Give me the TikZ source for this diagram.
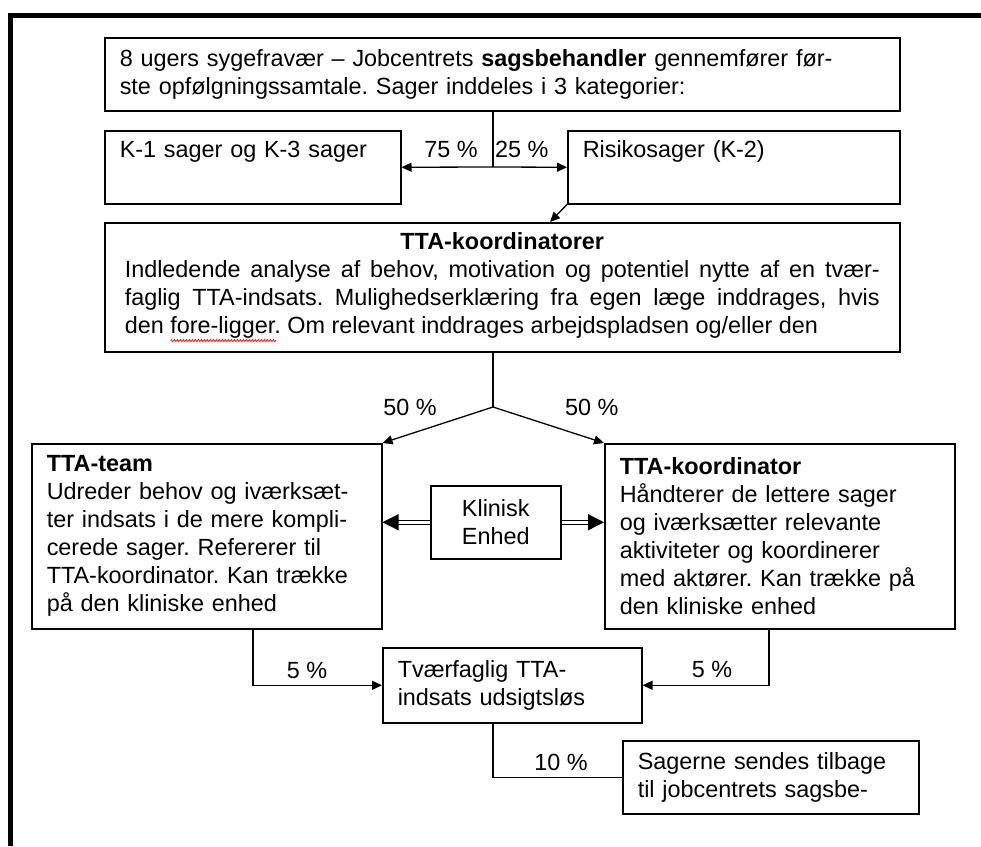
\documentclass[tikz,border=0pt]{standalone}
\usepackage{fontspec}
\setmainfont{Liberation Sans}
\usetikzlibrary{arrows.meta,positioning,decorations.pathmorphing}
\newlength{\wavelen}
\newcommand{\redwave}[1]{\settowidth{\wavelen}{#1}\rlap{\tikz[baseline=0pt]\draw[red, line width=0.7pt, decorate, decoration={zigzag, segment length=3pt, amplitude=1pt}] (0pt,-7pt) -- (\wavelen,-7pt);}#1}
\newcommand{\loosefit}{\rightskip=0pt plus 1fil minus 40pt\relax}

\begin{document}
\begin{tikzpicture}[
		x=1pt, y=-1pt,
		every node/.style={font=\fontsize{23.4}{28}\selectfont\frenchspacing},
		box/.style={draw, line width=1.5pt, anchor=north west, align=left, inner xsep=15pt, inner ysep=3pt},
		toptext/.style={inner ysep=0pt, text height=27pt, text depth=46pt},
		lbl/.style={inner sep=2pt},
		arr/.style={line width=1.3pt, -{Triangle[length=10pt,width=9pt]}},
		dblarr/.style={double, double distance=2.5pt, line width=1.2pt, -{Triangle[length=16pt,width=16pt]}}
		]
		\useasboundingbox (0,0) rectangle (981,846);
		\draw[line width=5pt] (10.5,846) -- (10.5,15.5) -- (981,15.5);
		
		\node[box, minimum width=795pt, minimum height=73pt, text width=765pt] (sick) at (104,37) {\loosefit 8 ugers sygefravær – Jobcentrets \textbf{sagsbehandler} gennemfører før-\\ste opfølgningssamtale. Sager inddeles i 3 kategorier:};
		\node[box, toptext, minimum width=296pt, minimum height=73pt, text width=266pt] (kone) at (104,130) {K-1 sager og K-3 sager};
		\node[box, toptext, minimum width=332pt, minimum height=73pt, text width=302pt] (risk) at (567,130) {Risikosager (K-2)};
		\node[box, align=justify, inner xsep=18pt, minimum width=795pt, minimum height=129pt, text width=755pt] (koord) at (104,222) {\makebox[\linewidth]{\textbf{TTA-koordinatorer}}\\Indledende analyse af behov, motivation og potentiel nytte af en tvær-\linebreak faglig TTA-indsats. Mulighedserklæring fra egen læge inddrages, hvis\linebreak den \redwave{fore-ligger}. Om relevant inddrages arbejdspladsen og/eller den};
		\node[box, minimum width=350pt, minimum height=185pt, text width=320pt] (team) at (31,443) {\loosefit\textbf{TTA-team}\\Udreder behov og iværksæt-\\ter indsats i de mere kompli-\\cerede sager. Refererer til\\TTA-koordinator. Kan trække\\på den kliniske enhed};
		\node[box, align=center, minimum width=130pt, minimum height=73pt, text width=100pt] (klinisk) at (430,485) {Klinisk\\Enhed};
		\node[box, minimum width=350pt, minimum height=185pt, text width=320pt] (coord) at (604,443) {\loosefit\textbf{TTA-koordinator}\\Håndterer de lettere sager\\og iværksætter relevante\\aktiviteter og koordinerer\\med aktører. Kan trække på\\den kliniske enhed};
		\node[box, minimum width=259pt, minimum height=75pt, text width=229pt] (tvaer) at (382,647) {\loosefit Tværfaglig TTA-\\indsats udsigtsløs};
		\node[box, minimum width=296pt, minimum height=73pt, text width=266pt] (back) at (622,740) {\loosefit Sagerne sendes tilbage\\til jobcentrets sagsbe-};
		
		\coordinate (forka) at (493,167);
		\coordinate (forkb) at (493,407);
		\coordinate (riskin) at (550,222);
		\draw[line width=1.3pt] (sick.south -| forka) -- (forka);
		\draw[arr] (forka) -- (kone.east);
		\draw[arr] (forka) -- (risk.west);
		\draw[arr] (risk.south west) -- (riskin);
		\draw[line width=1.3pt] (koord.south -| forkb) -- (forkb);
		\draw[arr] (forkb) -- (team.north east);
		\draw[arr] (forkb) -- (coord.north west);
		\draw[dblarr] (klinisk.west) -- (klinisk.west -| team.east);
		\draw[dblarr] (klinisk.east) -- (klinisk.east -| coord.west);
		\draw[arr] (team.south -| 253,0) |- (tvaer.west);
		\draw[arr] (coord.south -| 769,0) |- (tvaer.east);
		\draw[line width=1.3pt] (tvaer.south -| forkb) |- (back.west);
		
		\node[lbl, above left=7pt and 13pt of forka] (pctsf) {75 \%};
		\node[lbl, above right=7pt and 0pt of forka] (pcttf) {25 \%};
		\node[lbl, left=54pt of forkb] (pctfa) {50 \%};
		\node[lbl, right=70pt of forkb] (pctfb) {50 \%};
		\node[lbl, anchor=base] (pctva) at (307,678) {5 \%};
		\node[lbl, anchor=base] (pctvb) at (712,677) {5 \%};
		\node[lbl, anchor=base] (pctti) at (561,770) {10 \%};
	\end{tikzpicture}
\end{document}
